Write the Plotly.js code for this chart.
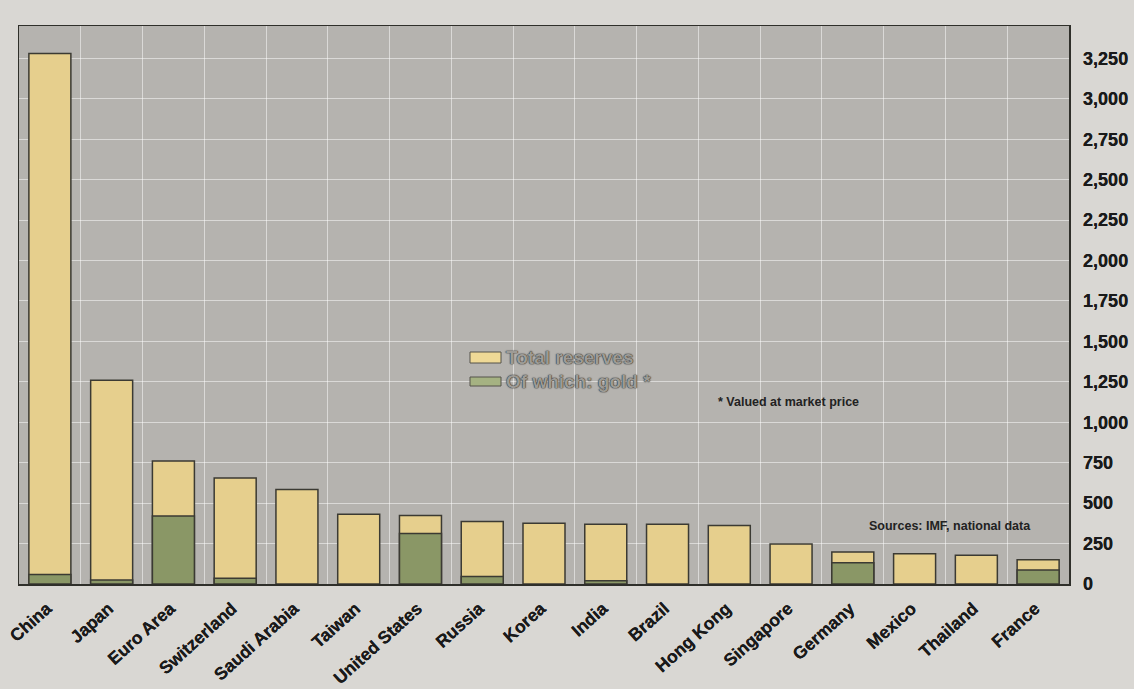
<!DOCTYPE html>
<html>
<head>
<meta charset="utf-8">
<script src="https://cdn.plot.ly/plotly-3.0.1.min.js"></script>
<style>
  html, body { margin: 0; padding: 0; background: #d9d7d3; }
  #chart { width: 1134px; height: 689px; }
</style>
</head>
<body>
<div id="chart"></div>
<script>
// Official reserves by economy, US$ billions
const countries = ["China", "Japan", "Euro Area", "Switzerland", "Saudi Arabia", "Taiwan",
  "United States", "Russia", "Korea", "India", "Brazil", "Hong Kong", "Singapore",
  "Germany", "Mexico", "Thailand", "France"];
const totalReserves = [3280, 1260, 760, 655, 585, 432, 423, 387, 375, 370, 369, 362, 248, 198, 187, 177, 150];
const goldReserves = [58, 25, 420, 36, null, null, 312, 46, null, 20, null, null, null, 131, null, null, 87];
const yTicks = [0, 250, 500, 750, 1000, 1250, 1500, 1750, 2000, 2250, 2500, 2750, 3000, 3250];

const barLine = { color: "#3b3a33", width: 1.5 };
const labelFont = { family: "Liberation Sans, Arial, sans-serif", color: "#1a1a1a", weight: "bold",
  shadow: "0 0 0.5px #1a1a1a" };

const traces = [
  {
    type: "bar", name: "Total reserves", x: countries, y: totalReserves,
    marker: { color: "#e6cf8d", line: barLine }, width: 0.68, showlegend: false, hoverinfo: "x+y"
  },
  {
    type: "bar", name: "Of which: gold *", x: countries, y: goldReserves,
    marker: { color: "#8a9766", line: barLine }, width: 0.68, showlegend: false, hoverinfo: "x+y"
  }
];

// plot area in pixels: x 19..1069, y 26..584
const px = v => (v - 19) / 1050;
const py = v => (584 - v) / 558;

const legendText = { family: "Liberation Sans, Arial, sans-serif", size: 19, weight: "bold",
  color: "#9d9b96", shadow: "0 0 1.5px #262626, 0 0 1px #262626" };

const layout = {
  width: 1134, height: 689,
  paper_bgcolor: "#d9d7d3",
  plot_bgcolor: "#b5b3af",
  margin: { l: 19, r: 65, t: 26, b: 105 },
  barmode: "overlay",
  xaxis: {
    type: "category", range: [-0.5, 16.5],
    tickson: "boundaries", ticks: "", showgrid: true,
    gridcolor: "rgba(255,255,255,0.5)", gridwidth: 1,
    tickangle: -42, ticklabelstandoff: 6, ticklabelshift: -3,
    tickfont: Object.assign({ size: 17.5 }, labelFont),
    showline: true, mirror: true, linecolor: "#2f2f2a", linewidth: 1.5,
    zeroline: false, fixedrange: true
  },
  yaxis: {
    side: "right", range: [0, 3450],
    tickmode: "array", tickvals: yTicks, separatethousands: true, tickformat: ",d",
    ticks: "", ticklabelstandoff: 9,
    tickfont: Object.assign({ size: 18 }, labelFont),
    showgrid: true, gridcolor: "rgba(255,255,255,0.5)", gridwidth: 1,
    showline: true, mirror: true, linecolor: "#2f2f2a", linewidth: 1.5,
    zeroline: false, fixedrange: true
  },
  shapes: [
    { type: "rect", xref: "paper", yref: "paper", x0: px(470), x1: px(501), y0: py(363), y1: py(352),
      fillcolor: "#efd996", line: { color: "#55534a", width: 1 } },
    { type: "rect", xref: "paper", yref: "paper", x0: px(470), x1: px(501), y0: py(386), y1: py(377),
      fillcolor: "#a5b282", line: { color: "#55534a", width: 1 } }
  ],
  annotations: [
    { xref: "paper", yref: "paper", x: px(504), y: py(357), xanchor: "left", yanchor: "middle",
      text: "Total reserves", showarrow: false, font: legendText },
    { xref: "paper", yref: "paper", x: px(504), y: py(381), xanchor: "left", yanchor: "middle",
      text: "Of which: gold *", showarrow: false, font: legendText },
    { xref: "paper", yref: "paper", x: px(716), y: py(402), xanchor: "left", yanchor: "middle",
      text: "* Valued at market price", showarrow: false,
      font: { family: "Liberation Sans, Arial, sans-serif", size: 12.5, weight: "bold", color: "#222" } },
    { xref: "paper", yref: "paper", x: px(867), y: py(526), xanchor: "left", yanchor: "middle",
      text: "Sources: IMF, national data", showarrow: false,
      font: { family: "Liberation Sans, Arial, sans-serif", size: 12.5, weight: "bold", color: "#222" } }
  ],
  showlegend: false
};

Plotly.newPlot("chart", traces, layout, { displayModeBar: false, staticPlot: true });
</script>
</body>
</html>
